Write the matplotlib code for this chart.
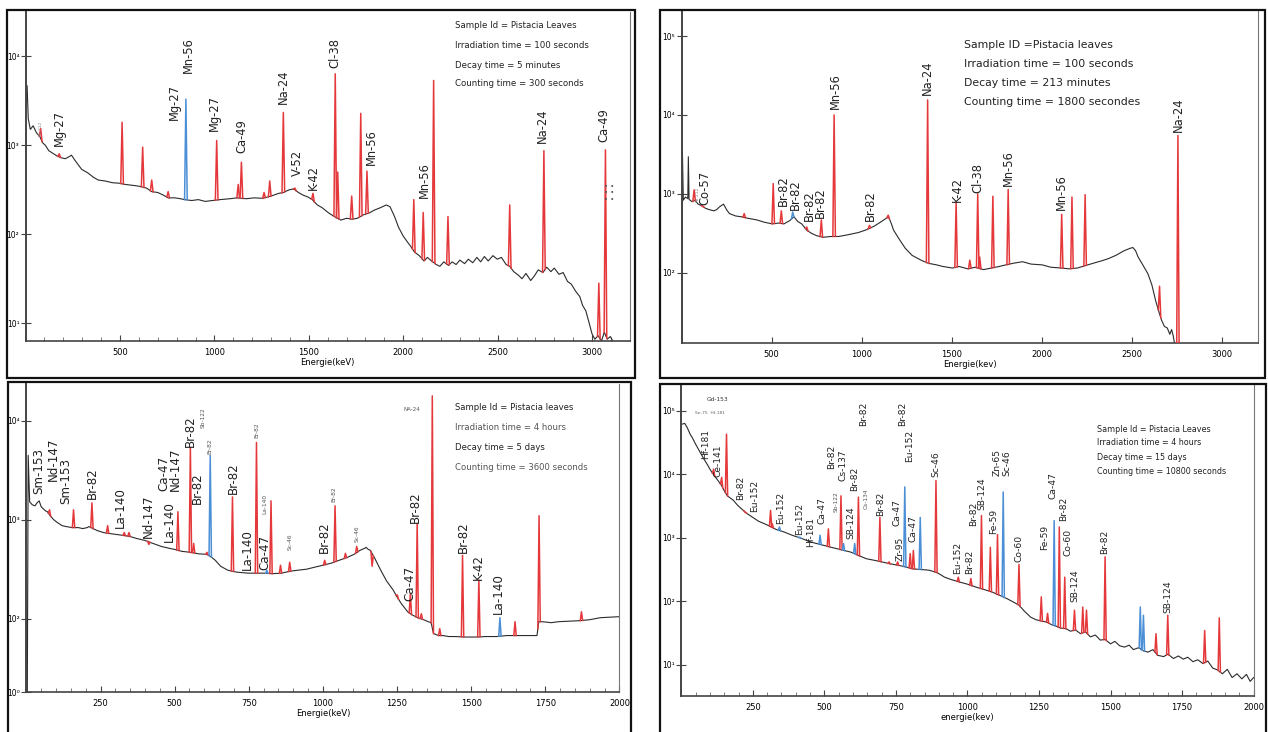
"""Four gamma spectra of Pistacia leaves (NAA), redrawn as a 2x2 sheet."""
import numpy as np
import matplotlib
matplotlib.use("Agg")
import matplotlib.pyplot as plt
from matplotlib.patches import Rectangle
from matplotlib.ticker import FixedLocator, MultipleLocator, NullLocator

NARROW = ["Liberation Sans Narrow", "DejaVu Sans"]
RED = "#e5383b"
BLUE = "#4b8fd6"
LINE = "#2b2b2b"
W, H = 1268, 732

# ---------------- panel 1 : 100 s irradiation, 5 min decay ----------------
p1_bg_energy = [8, 14, 25, 40, 58, 75, 90, 105, 123, 145, 167, 190, 210, 228, 243, 262, 297, 330,
                360, 385, 420, 460, 494, 530, 570, 603, 640, 668, 700, 730, 755, 790, 820, 842,
                880, 915, 951, 990, 1030, 1082, 1120, 1170, 1210, 1256, 1300, 1340, 1365, 1395,
                1420, 1445, 1470, 1495, 1518, 1545, 1570, 1605, 1635, 1670, 1700, 1730, 1757,
                1790, 1820, 1845, 1880, 1910, 1930, 1954, 1975, 2000, 2020, 2041, 2060, 2085,
                2110, 2128, 2150, 2175, 2194, 2215, 2240, 2259, 2280, 2300, 2325, 2345, 2368,
                2390, 2410, 2430, 2450, 2475, 2498, 2520, 2545, 2564, 2585, 2610, 2629, 2650,
                2675, 2694, 2715, 2740, 2760, 2782, 2800, 2825, 2847, 2870, 2890, 2913, 2935,
                2950, 2967, 2985, 3000, 3015, 3032, 3050, 3065, 3080, 3097, 3110]
p1_bg_log = [3.67, 3.30, 3.18, 3.22, 3.14, 3.10, 3.03, 3.00, 2.94, 2.91, 2.88, 2.86, 2.85, 2.87,
             2.89, 2.83, 2.73, 2.69, 2.64, 2.61, 2.60, 2.58, 2.575, 2.56, 2.55, 2.54, 2.52, 2.48,
             2.47, 2.44, 2.41, 2.41, 2.40, 2.39, 2.38, 2.39, 2.37, 2.38, 2.39, 2.40, 2.41, 2.40,
             2.41, 2.405, 2.43, 2.46, 2.47, 2.50, 2.51, 2.47, 2.44, 2.42, 2.39, 2.33, 2.30, 2.24,
             2.20, 2.16, 2.18, 2.17, 2.18, 2.22, 2.24, 2.27, 2.30, 2.33, 2.31, 2.20, 2.08, 1.98,
             1.92, 1.86, 1.80, 1.76, 1.70, 1.74, 1.70, 1.66, 1.64, 1.69, 1.65, 1.69, 1.66, 1.71,
             1.67, 1.72, 1.68, 1.74, 1.69, 1.75, 1.70, 1.76, 1.72, 1.74, 1.66, 1.64, 1.58, 1.54,
             1.50, 1.56, 1.48, 1.53, 1.60, 1.57, 1.63, 1.58, 1.62, 1.55, 1.57, 1.47, 1.44, 1.36,
             1.30, 1.20, 1.14, 1.00, 0.88, 0.82, 0.86, 0.80, 0.90, 0.82, 0.85, 0.80]
p1_peak_energy = [80, 178, 511, 620, 668, 755, 849, 1012, 1126, 1143, 1263, 1293, 1365, 1426,
                  1522, 1640, 1653, 1727, 1775, 1808, 2056, 2106, 2161, 2237, 2564, 2745, 3036, 3071]
p1_peak_log = [3.19, 2.905, 3.26, 2.98, 2.61, 2.48, 3.52, 3.055, 2.56, 2.81, 2.47, 2.60, 3.37,
               2.52, 2.46, 3.805, 2.70, 2.43, 3.36, 2.71, 2.39, 2.245, 3.73, 2.20, 2.33, 2.94,
               1.45, 2.95]
p1_peak_kind = "rrrrrrb" + "r" * 21
p1_label_text = ["Mg-27", "Mg-27", "Mn-56", "Mg-27", "Ca-49", "Na-24", "V-52", "K-42", "Cl-38",
                 "Mn-56", "Mn-56", "Na-24", "Ca-49"]
p1_label_energy = [178, 788, 864, 999, 1147, 1365, 1441, 1522, 1638, 1829, 2113, 2738, 3065]
p1_label_log = [2.99, 3.29, 3.81, 3.16, 2.91, 3.46, 2.65, 2.50, 3.87, 2.78, 2.41, 3.03, 3.04]
p1_info = ["Sample Id = Pistacia Leaves", "Irradiation time = 100 seconds",
           "Decay time = 5 minutes", "Counting time = 300 seconds"]

# ---------------- panel 2 : 100 s irradiation, 213 min decay ----------------
p2_bg_energy = [2, 5, 10, 22, 35, 38, 42, 59, 75, 92, 112, 135, 155, 179, 195, 211, 233, 250,
                266, 300, 331, 370, 418, 460, 504, 540, 569, 600, 624, 645, 667, 695, 721, 750,
                786, 830, 873, 920, 982, 1020, 1069, 1110, 1149, 1165, 1177, 1210, 1242, 1280,
                1329, 1370, 1416, 1450, 1503, 1540, 1589, 1630, 1676, 1720, 1763, 1800, 1840,
                1893, 1940, 2002, 2050, 2110, 2150, 2197, 2240, 2284, 2330, 2370, 2410, 2457,
                2490, 2505, 2520, 2534, 2560, 2588, 2610, 2631, 2650, 2664, 2680, 2696, 2710,
                2720, 2729, 2740, 2760]
p2_bg_log = [1.0, 3.55, 2.92, 2.96, 2.94, 3.47, 2.93, 2.90, 2.92, 2.87, 2.85, 2.815, 2.80, 2.785,
             2.80, 2.835, 2.87, 2.80, 2.75, 2.72, 2.71, 2.69, 2.67, 2.64, 2.62, 2.63, 2.62, 2.66,
             2.71, 2.65, 2.62, 2.54, 2.50, 2.47, 2.45, 2.46, 2.46, 2.48, 2.51, 2.54, 2.59, 2.65,
             2.71, 2.62, 2.54, 2.42, 2.31, 2.22, 2.16, 2.12, 2.10, 2.08, 2.06, 2.08, 2.05, 2.07,
             2.04, 2.06, 2.08, 2.10, 2.12, 2.14, 2.11, 2.10, 2.07, 2.06, 2.05, 2.06, 2.09, 2.12,
             2.15, 2.18, 2.22, 2.28, 2.31, 2.32, 2.28, 2.20, 2.10, 1.99, 1.85, 1.65, 1.50, 1.40,
             1.32, 1.30, 1.22, 1.28, 1.20, 1.05, 0.90]
p2_peak_energy = [70, 118, 348, 509, 554, 617, 695, 776, 847, 1043, 1147, 1366, 1524, 1600, 1644,
                  1655, 1728, 1813, 2110, 2167, 2240, 2653, 2755]
p2_peak_log = [3.05, 2.84, 2.75, 3.13, 2.785, 2.77, 2.58, 2.67, 4.0, 2.60, 2.73, 4.19, 2.89, 2.16,
               3.0, 2.20, 2.97, 3.055, 2.74, 2.96, 2.99, 1.83, 3.74]
p2_peak_kind = "rrrrrb" + "r" * 17
p2_label_text = ["Co-57", "Br-82", "Br-82", "Br-82", "Br-82", "Mn-56", "Br-82", "Na-24", "K-42",
                 "Cl-38", "Mn-56", "Mn-56", "Na-24"]
p2_label_energy = [131, 563, 630, 711, 773, 852, 1047, 1366, 1531, 1646, 1813, 2110, 2755]
p2_label_log = [2.86, 2.84, 2.79, 2.65, 2.69, 4.08, 2.65, 4.25, 2.90, 3.01, 3.10, 2.79, 3.79]
p2_info = ["Sample ID =Pistacia leaves", "Irradiation time = 100 seconds",
           "Decay time = 213 minutes", "Counting time = 1800 secondes"]

# ---------------- panel 3 : 4 h irradiation, 5 d decay ----------------
p3_bg_energy = [3, 6, 11, 20, 29, 36, 43, 50, 57, 64, 71, 80, 92, 105, 120, 135, 155, 175, 190,
                205, 211, 225, 239, 260, 281, 305, 330, 350, 372, 400, 427, 455, 483, 500, 525,
                555, 581, 609, 625, 637, 655, 679, 710, 748, 780, 804, 830, 860, 890, 916, 945,
                972, 1000, 1027, 1055, 1083, 1105, 1125, 1140, 1146, 1153, 1160, 1175, 1195, 1215,
                1237, 1250, 1265, 1286, 1300, 1320, 1340, 1355, 1365, 1373, 1390, 1404, 1425,
                1446, 1480, 1516, 1550, 1586, 1620, 1650, 1670, 1700, 1722, 1728, 1740, 1770,
                1795, 1830, 1865, 1900, 1935, 1965, 1997]
p3_bg_log = [1.2, 3.65, 3.18, 3.15, 3.14, 3.17, 3.19, 3.13, 3.11, 3.09, 3.08, 3.04, 3.00, 2.97,
             2.94, 2.93, 2.92, 2.92, 2.91, 2.92, 2.93, 2.91, 2.89, 2.87, 2.86, 2.85, 2.84, 2.83,
             2.81, 2.79, 2.76, 2.73, 2.71, 2.70, 2.68, 2.67, 2.655, 2.65, 2.62, 2.59, 2.53, 2.49,
             2.47, 2.46, 2.46, 2.46, 2.455, 2.46, 2.48, 2.49, 2.50, 2.52, 2.54, 2.56, 2.59, 2.62,
             2.65, 2.69, 2.71, 2.72, 2.70, 2.69, 2.61, 2.49, 2.38, 2.29, 2.22, 2.15, 2.07, 2.04,
             2.01, 1.99, 1.97, 1.96, 1.85, 1.83, 1.83, 1.82, 1.82, 1.815, 1.815, 1.82, 1.82, 1.83,
             1.83, 1.83, 1.83, 1.83, 1.97, 1.97, 1.96, 1.97, 1.975, 1.98, 1.99, 2.01, 2.015, 2.02]
p3_peak_energy = [78, 159, 221, 274, 330, 346, 413, 511, 553, 564, 609, 620, 695, 776, 811, 825,
                  857, 888, 1006, 1041, 1076, 1114, 1166, 1251, 1295, 1318, 1332, 1369, 1394, 1471,
                  1526, 1597, 1648, 1729, 1872]
p3_peak_log = [3.10, 3.10, 3.17, 2.94, 2.87, 2.87, 2.75, 3.08, 3.73, 2.76, 2.67, 3.65, 3.23, 3.78,
               2.49, 3.19, 2.54, 2.57, 2.59, 3.14, 2.66, 2.73, 2.53, 2.24, 2.25, 2.96, 2.05, 4.25,
               1.90, 2.64, 2.39, 2.01, 1.97, 3.04, 2.07]
p3_peak_kind = "r" * 11 + "b" + "rr" + "b" + "r" * 16 + "b" + "rrr"
p3_label_text = ["Sm-153", "Nd-147", "Sm-153", "Br-82", "La-140", "Nd-147", "Ca-47", "La-140",
                 "Nd-147", "Br-82", "Br-82", "Br-82", "La-140", "Ca-47", "Br-82", "Ca-47", "Br-82",
                 "Br-82", "K-42", "La-140"]
p3_label_energy = [43, 92, 134, 221, 316, 413, 462, 483, 504, 553, 578, 699, 745, 804, 1006, 1292,
                   1313, 1474, 1523, 1592]
p3_label_log = [3.26, 3.39, 3.16, 3.21, 2.92, 2.82, 3.29, 2.77, 3.29, 3.73, 3.16, 3.26, 2.49, 2.49,
                2.66, 2.18, 2.97, 2.66, 2.39, 2.05]
p3_small_text = ["Sb-122", "Br-82", "Br-82", "La-140", "Sc-46", "Br-82", "Sc-46"]
p3_small_energy = [595, 618, 776, 804, 888, 1038, 1114]
p3_small_log = [3.93, 3.66, 3.82, 3.06, 2.69, 3.18, 2.77]
p3_info = ["Sample Id = Pistacia leaves", "Irradiation time = 4 hours",
           "Decay time = 5 days", "Counting time = 3600 seconds"]

# ---------------- panel 4 : 4 h irradiation, 15 d decay ----------------
p4_bg_energy = [4, 12, 20, 25, 32, 38, 48, 59, 69, 79, 90, 100, 110, 120, 130, 141, 150, 161, 170,
                182, 195, 209, 230, 250, 270, 291, 310, 332, 360, 387, 420, 455, 490, 524, 560,
                592, 620, 647, 675, 701, 730, 756, 785, 810, 840, 866, 895, 920, 945, 975, 1000,
                1029, 1055, 1084, 1110, 1139, 1160, 1180, 1200, 1221, 1240, 1258, 1276, 1295,
                1310, 1325, 1344, 1360, 1378, 1395, 1412, 1430, 1447, 1464, 1481, 1500, 1515,
                1532, 1549, 1565, 1580, 1598, 1615, 1631, 1648, 1665, 1686, 1700, 1720, 1737,
                1754, 1770, 1788, 1805, 1823, 1840, 1857, 1874, 1891, 1908, 1925, 1942, 1959,
                1975, 1988, 2000]
p4_bg_log = [4.79, 4.80, 4.74, 4.69, 4.62, 4.58, 4.49, 4.40, 4.32, 4.24, 4.16, 4.08, 4.01, 3.95,
             3.89, 3.82, 3.74, 3.66, 3.63, 3.59, 3.52, 3.46, 3.38, 3.32, 3.26, 3.22, 3.18, 3.13,
             3.09, 3.04, 2.99, 2.93, 2.89, 2.85, 2.81, 2.775, 2.72, 2.67, 2.645, 2.62, 2.59, 2.57,
             2.54, 2.51, 2.50, 2.49, 2.45, 2.38, 2.34, 2.30, 2.27, 2.225, 2.19, 2.15, 2.10, 2.04,
             1.99, 1.94, 1.84, 1.75, 1.71, 1.69, 1.675, 1.63, 1.61, 1.58, 1.57, 1.53, 1.55, 1.49,
             1.52, 1.44, 1.47, 1.39, 1.40, 1.33, 1.37, 1.30, 1.28, 1.31, 1.24, 1.27, 1.22, 1.20,
             1.24, 1.15, 1.13, 1.17, 1.10, 1.14, 1.09, 1.12, 1.05, 1.08, 1.02, 1.06, 0.95, 0.92,
             0.86, 0.93, 0.80, 0.86, 0.78, 0.85, 0.74, 0.80]
p4_peak_energy = [113, 141, 158, 223, 312, 318, 343, 414, 485, 514, 558, 567, 606, 619, 694, 726,
                  756, 781, 800, 811, 835, 890, 968, 1012, 1049, 1080, 1105, 1125, 1180, 1258,
                  1280, 1303, 1321, 1340, 1374, 1403, 1416, 1481, 1604, 1615, 1659, 1700, 1829, 1880]
p4_peak_log = [4.08, 3.95, 4.63, 3.40, 3.43, 3.22, 3.17, 3.01, 3.04, 3.14, 3.66, 2.91, 2.91, 3.64,
               3.32, 2.62, 2.62, 3.80, 2.75, 2.80, 3.32, 3.90, 2.38, 2.36, 3.35, 2.85, 3.05, 3.72,
               2.58, 2.07, 1.81, 3.27, 3.17, 2.38, 1.86, 1.91, 1.86, 2.70, 1.91, 1.78, 1.49, 1.78,
               1.54, 1.74]
p4_peak_kind = ("rrrrrr" + "bbb" + "rr" + "bb" + "rrrr" + "b" + "rr" + "b" + "rrrrrr" + "b"
                + "rrr" + "b" + "rrrrrr" + "bb" + "rrrr")
p4_label_text = ["Hf-181", "Ce-141", "Br-82", "Eu-152", "Eu-152", "Eu-152", "Hf-181", "Ca-47",
                 "Br-82", "Cs-137", "SB-124", "Br-82", "Br-82", "Br-82", "Ca-47", "Zr-95", "Br-82",
                 "Eu-152", "Ca-47", "Sc-46", "Eu-152", "Br-82", "Br-82", "SB-124", "Fe-59",
                 "Zn-65", "Sc-46", "Co-60", "Fe-59", "Ca-47", "Br-82", "Co-60", "SB-124", "Br-82",
                 "SB-124"]
p4_label_energy = [86, 127, 206, 257, 346, 412, 452, 492, 524, 565, 592, 606, 636, 698, 753, 763,
                   772, 797, 808, 890, 964, 1009, 1023, 1050, 1091, 1105, 1139, 1180, 1269, 1300,
                   1337, 1351, 1374, 1481, 1702]
p4_label_log = [4.24, 3.95, 3.59, 3.40, 3.22, 3.04, 2.85, 3.22, 4.08, 3.90, 2.98, 3.74, 4.76, 3.35,
                3.19, 2.64, 4.76, 4.19, 2.93, 3.95, 2.43, 2.43, 3.19, 3.43, 3.06, 3.98, 3.98, 2.62,
                2.80, 3.61, 3.27, 2.72, 1.99, 2.75, 1.81]
p4_small_text = ["Sb-122", "Cs-134"]
p4_small_energy = [540, 647]
p4_small_log = [3.40, 3.46]
p4_info = ["Sample Id = Pistacia Leaves", "Irradiation time = 4 hours",
           "Decay time = 15 days", "Counting time = 10800 seconds"]


def px_rect(x0, y0, x1, y1):
    """Pixel box (top-left origin) -> figure fraction [l, b, w, h]."""
    return [x0 / W, 1 - y1 / H, (x1 - x0) / W, (y1 - y0) / H]


def spectrum(ax, bg_e, bg_l, pk_e, pk_l, pk_k, half_width):
    bg_e = np.asarray(bg_e, float)
    bg_l = np.asarray(bg_l, float)
    assert len(bg_e) == len(bg_l) and len(pk_e) == len(pk_l) == len(pk_k)
    ax.plot(bg_e, 10 ** bg_l, color=LINE, lw=0.8, zorder=2)
    for e, top, kind in zip(pk_e, pk_l, pk_k):
        xs = np.array([e - half_width, e, e + half_width])
        base = np.interp(xs[[0, 2]], bg_e, bg_l)
        ys = 10 ** np.array([base[0], top, base[1]])
        ax.plot(xs, ys, color=BLUE if kind == "b" else RED, lw=1.1, zorder=3)


def labels(ax, texts, energies, logs, size, color="#222222"):
    assert len(texts) == len(energies) == len(logs)
    for t, e, lg in zip(texts, energies, logs):
        ax.text(e, 10 ** lg, t, rotation=90, ha="center", va="bottom",
                fontsize=size, color=color, zorder=4)


def style_axes(ax, xlim, ylog, xmajor, xminor, ytick_logs, ytick_labels, xlabel):
    ax.set_yscale("log")
    ax.set_xlim(*xlim)
    ax.set_ylim(10 ** ylog[0], 10 ** ylog[1])
    ax.xaxis.set_major_locator(FixedLocator(xmajor))
    ax.xaxis.set_minor_locator(MultipleLocator(xminor))
    ax.yaxis.set_major_locator(FixedLocator([10 ** v for v in ytick_logs]))
    ax.yaxis.set_minor_locator(NullLocator())
    ax.set_yticklabels(ytick_labels)
    ax.tick_params(axis="x", which="major", direction="in", length=4, width=0.8,
                   color="#444444", pad=5, labelsize=6)
    ax.tick_params(axis="x", which="minor", direction="in", length=3, width=0.6, color="#666666")
    ax.tick_params(axis="y", direction="inout", length=7, width=0.8, color="#444444",
                   pad=1, labelsize=5.5)
    for lab in ax.get_xticklabels() + ax.get_yticklabels():
        lab.set_family(NARROW)
    ax.spines["top"].set_visible(False)
    ax.spines["left"].set_color("#444444")
    ax.spines["left"].set_linewidth(1.4)
    ax.spines["bottom"].set_color("#444444")
    ax.spines["bottom"].set_linewidth(1.2)
    ax.spines["right"].set_color("#777777")
    ax.spines["right"].set_linewidth(0.8)
    ax.set_xlabel(xlabel, fontsize=6, family=NARROW, labelpad=1)
    ax.set_facecolor("none")


def info_block(fig, lines, x, ys, size, colors=None):
    for i, (txt, y) in enumerate(zip(lines, ys)):
        c = colors[i] if colors else "#222222"
        fig.text(x / W, 1 - y / H, txt, fontsize=size, family=NARROW, color=c,
                 ha="left", va="center")


fig = plt.figure(figsize=(W / 100, H / 100), dpi=100)
fig.patch.set_facecolor("white")

# panel frames
for x0, y0, x1, y1 in [(7, 10, 635, 378), (660, 10, 1265, 378), (8, 382, 631, 740), (660, 384, 1266, 740)]:
    fig.patches.append(Rectangle((x0 / W, 1 - y1 / H), (x1 - x0) / W, (y1 - y0) / H,
                                 transform=fig.transFigure, fill=False, lw=1.6,
                                 edgecolor="#111111", zorder=0))

# --- panel 1
ax1 = fig.add_axes(px_rect(25.6, 12, 629.8, 341))
spectrum(ax1, p1_bg_energy, p1_bg_log, p1_peak_energy, p1_peak_log, p1_peak_kind, 7)
labels(ax1, p1_label_text, p1_label_energy, p1_label_log, 8.3)
ax1.text(78, 10 ** 3.1, "Pb-212", rotation=90, ha="center", va="bottom", fontsize=3.2, color="#888888")
ax1.text(3092, 10 ** 2.46, "• •\n• •\n• •", ha="center", va="center", fontsize=5,
         linespacing=1.1, color="#555555", zorder=5)
style_axes(ax1, (0, 3200), (0.8, 4.5), [500, 1000, 1500, 2000, 2500, 3000], 100,
           [1, 2, 3, 4], ["10¹", "10²", "10³", "10⁴"], "Energie(keV)")
info_block(fig, p1_info, 455, [26, 46, 65, 84], 6.2)

# --- panel 2
ax2 = fig.add_axes(px_rect(681.5, 10, 1258.1, 343))
spectrum(ax2, p2_bg_energy, p2_bg_log, p2_peak_energy, p2_peak_log, p2_peak_kind, 7)
labels(ax2, p2_label_text, p2_label_energy, p2_label_log, 8.3)
ax2.text(90, 10 ** 2.9, "Pb-212", rotation=90, ha="center", va="bottom", fontsize=3.2, color="#888888")
style_axes(ax2, (0, 3200), (1.11, 5.33), [500, 1000, 1500, 2000, 2500, 3000], 500,
           [2, 3, 4, 5], ["10²", "10³", "10⁴", "10⁵"], "Energie(kev)")
info_block(fig, p2_info, 964, [45, 64, 83, 102], 7.8)

# --- panel 3
ax3 = fig.add_axes(px_rect(26.4, 384, 619.4, 692))
spectrum(ax3, p3_bg_energy, p3_bg_log, p3_peak_energy, p3_peak_log, p3_peak_kind, 4)
labels(ax3, p3_label_text, p3_label_energy, p3_label_log, 8.6)
labels(ax3, p3_small_text, p3_small_energy, p3_small_log, 4.2, color="#555555")
ax3.text(1300, 10 ** 4.11, "NA-24", ha="center", va="center", fontsize=4, family=NARROW, color="#555555")
style_axes(ax3, (0, 2000), (1.26, 4.37), [250, 500, 750, 1000, 1250, 1500, 1750, 2000], 50,
           [1.26, 2, 3, 4], ["10⁰", "10²", "10³", "10⁴"], "Energie(keV)")
info_block(fig, p3_info, 455, [408, 428, 448, 467], 6.1,
           colors=["#222222", "#555555", "#222222", "#555555"])

# --- panel 4
ax4 = fig.add_axes(px_rect(681.3, 384, 1253.6, 696))
spectrum(ax4, p4_bg_energy, p4_bg_log, p4_peak_energy, p4_peak_log, p4_peak_kind, 4)
labels(ax4, p4_label_text, p4_label_energy, p4_label_log, 6.6)
labels(ax4, p4_small_text, p4_small_energy, p4_small_log, 4.2, color="#555555")
ax4.text(127, 10 ** 5.17, "Gd-153", ha="center", va="center", fontsize=4.2, family=NARROW, color="#333333")
ax4.text(100, 10 ** 4.96, "Se-75  Hf-181", ha="center", va="center", fontsize=3.2, family=NARROW, color="#666666")
style_axes(ax4, (0, 2000), (0.51, 5.42), [250, 500, 750, 1000, 1250, 1500, 1750, 2000], 50,
           [1, 2, 3, 4, 5], ["10¹", "10²", "10³", "10⁴", "10⁵"], "energie(kev)")
info_block(fig, p4_info, 1097, [430, 443, 458, 471], 5.8)

fig.savefig("out.png", dpi=100)
plt.close(fig)
